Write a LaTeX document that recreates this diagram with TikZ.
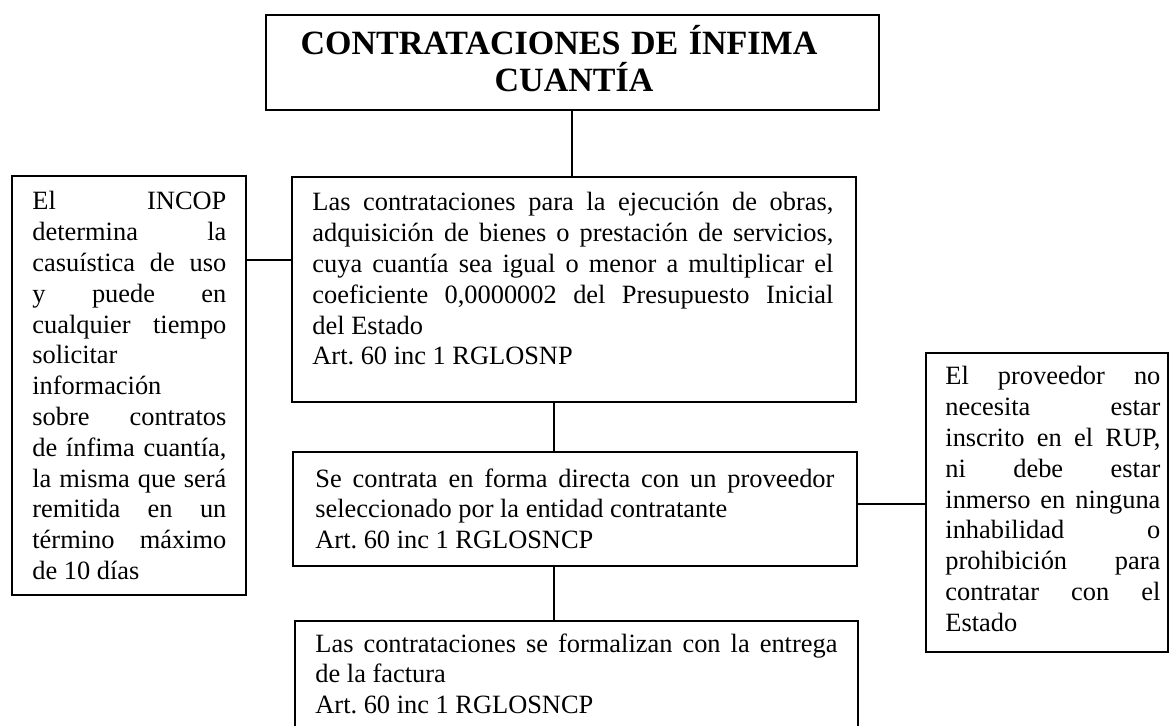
\documentclass[tikz,border=0pt]{standalone}
\usepackage{fontspec}
\setmainfont{Liberation Serif}
\usetikzlibrary{fit}
\frenchspacing
\newlength\jw
\newcommand\setj[1]{\spaceskip=0pt\xspaceskip=0pt\setlength\jw{#1}}
\newcommand\J[1]{\makebox[\jw][s]{#1}\\}
\begin{document}
\begin{tikzpicture}[x=0.5pt,y=-0.5pt,
  box/.style={draw, line width=0.75pt, inner sep=0pt},
  conn/.style={line width=0.8pt},
  txt/.style={anchor=base west, inner sep=0pt, align=left, font=\fontsize{13.2}{15.4}\selectfont},
  ttl/.style={anchor=base, inner sep=0pt, align=center, font=\bfseries\fontsize{17}{18.5}\selectfont}]
\useasboundingbox[fill=white] (0,0) rectangle (1170,726);
\clip (0,0) rectangle (1170,726);
% boxes
\node[box, fit={(266,15)(879,110)}] (tt) {};
\node[box, fit={(292,177)(856,402)}] (b2) {};
\node[box, fit={(293,452)(857,566)}] (b3) {};
\node[box, fit={(295,621)(858,745)}] (b4) {};
\node[box, fit={(12,176)(246,595)}] (lb) {};
\node[box, fit={(926,353)(1168,652)}] (rb) {};
% texts
\node[ttl, text width=300pt] (ttx) at (566.5,55) {\setj{0pt}CONTRATACIONES DE ÍNFIMA\kern7.5pt\\\leavevmode\kern7.5pt CUANTÍA};
\node[txt, text width=260.5pt] (b2x) at (312,211) {\setj{260.5pt}%
\J{Las contrataciones para la ejecución de obras,}
\J{adquisición de bienes o prestación de servicios,}
\J{cuya cuantía sea igual o menor a multiplicar el}
\J{coeficiente 0,0000002 del Presupuesto Inicial}
del Estado\\
Art. 60 inc 1 RGLOSNP};
\node[txt, text width=259.5pt] (b3x) at (315,487) {\setj{259.5pt}%
\J{Se contrata en forma directa con un proveedor}
seleccionado por la entidad contratante\\
Art. 60 inc 1 RGLOSNCP};
\node[txt, text width=261pt] (b4x) at (315,652) {\setj{261pt}%
\J{Las contrataciones se formalizan con la entrega}
de la factura\\
Art. 60 inc 1 RGLOSNCP};
\node[txt, text width=97pt] (lbx) at (32,210) {\setj{97pt}%
\J{El INCOP}
\J{determina la}
\J{casuística de uso}
\J{y puede en}
\J{cualquier tiempo}
solicitar\\
información\\
\J{sobre contratos}
\J{de ínfima cuantía,}
\J{la misma que será}
\J{remitida en un}
\J{término máximo}
de 10 días};
\node[txt, text width=107.5pt] (rbx) at (945,385) {\setj{107.5pt}%
\J{El proveedor no}
\J{necesita estar}
\J{inscrito en el RUP,}
\J{ni debe estar}
\J{inmerso en ninguna}
\J{inhabilidad o}
\J{prohibición para}
\J{contratar con el}
Estado};
% connectors
\coordinate (xt) at (572,0);
\coordinate (xa) at (554,0);
\coordinate (ya) at (0,260);
\coordinate (yb) at (0,504);
\draw[conn] (tt.south -| xt) -- (b2.north -| xt);
\draw[conn] (b2.south -| xa) -- (b3.north -| xa);
\draw[conn] (b3.south -| xa) -- (b4.north -| xa);
\draw[conn] (lb.east |- ya) -- (b2.west |- ya);
\draw[conn] (b3.east |- yb) -- (rb.west |- yb);
\end{tikzpicture}
\end{document}
